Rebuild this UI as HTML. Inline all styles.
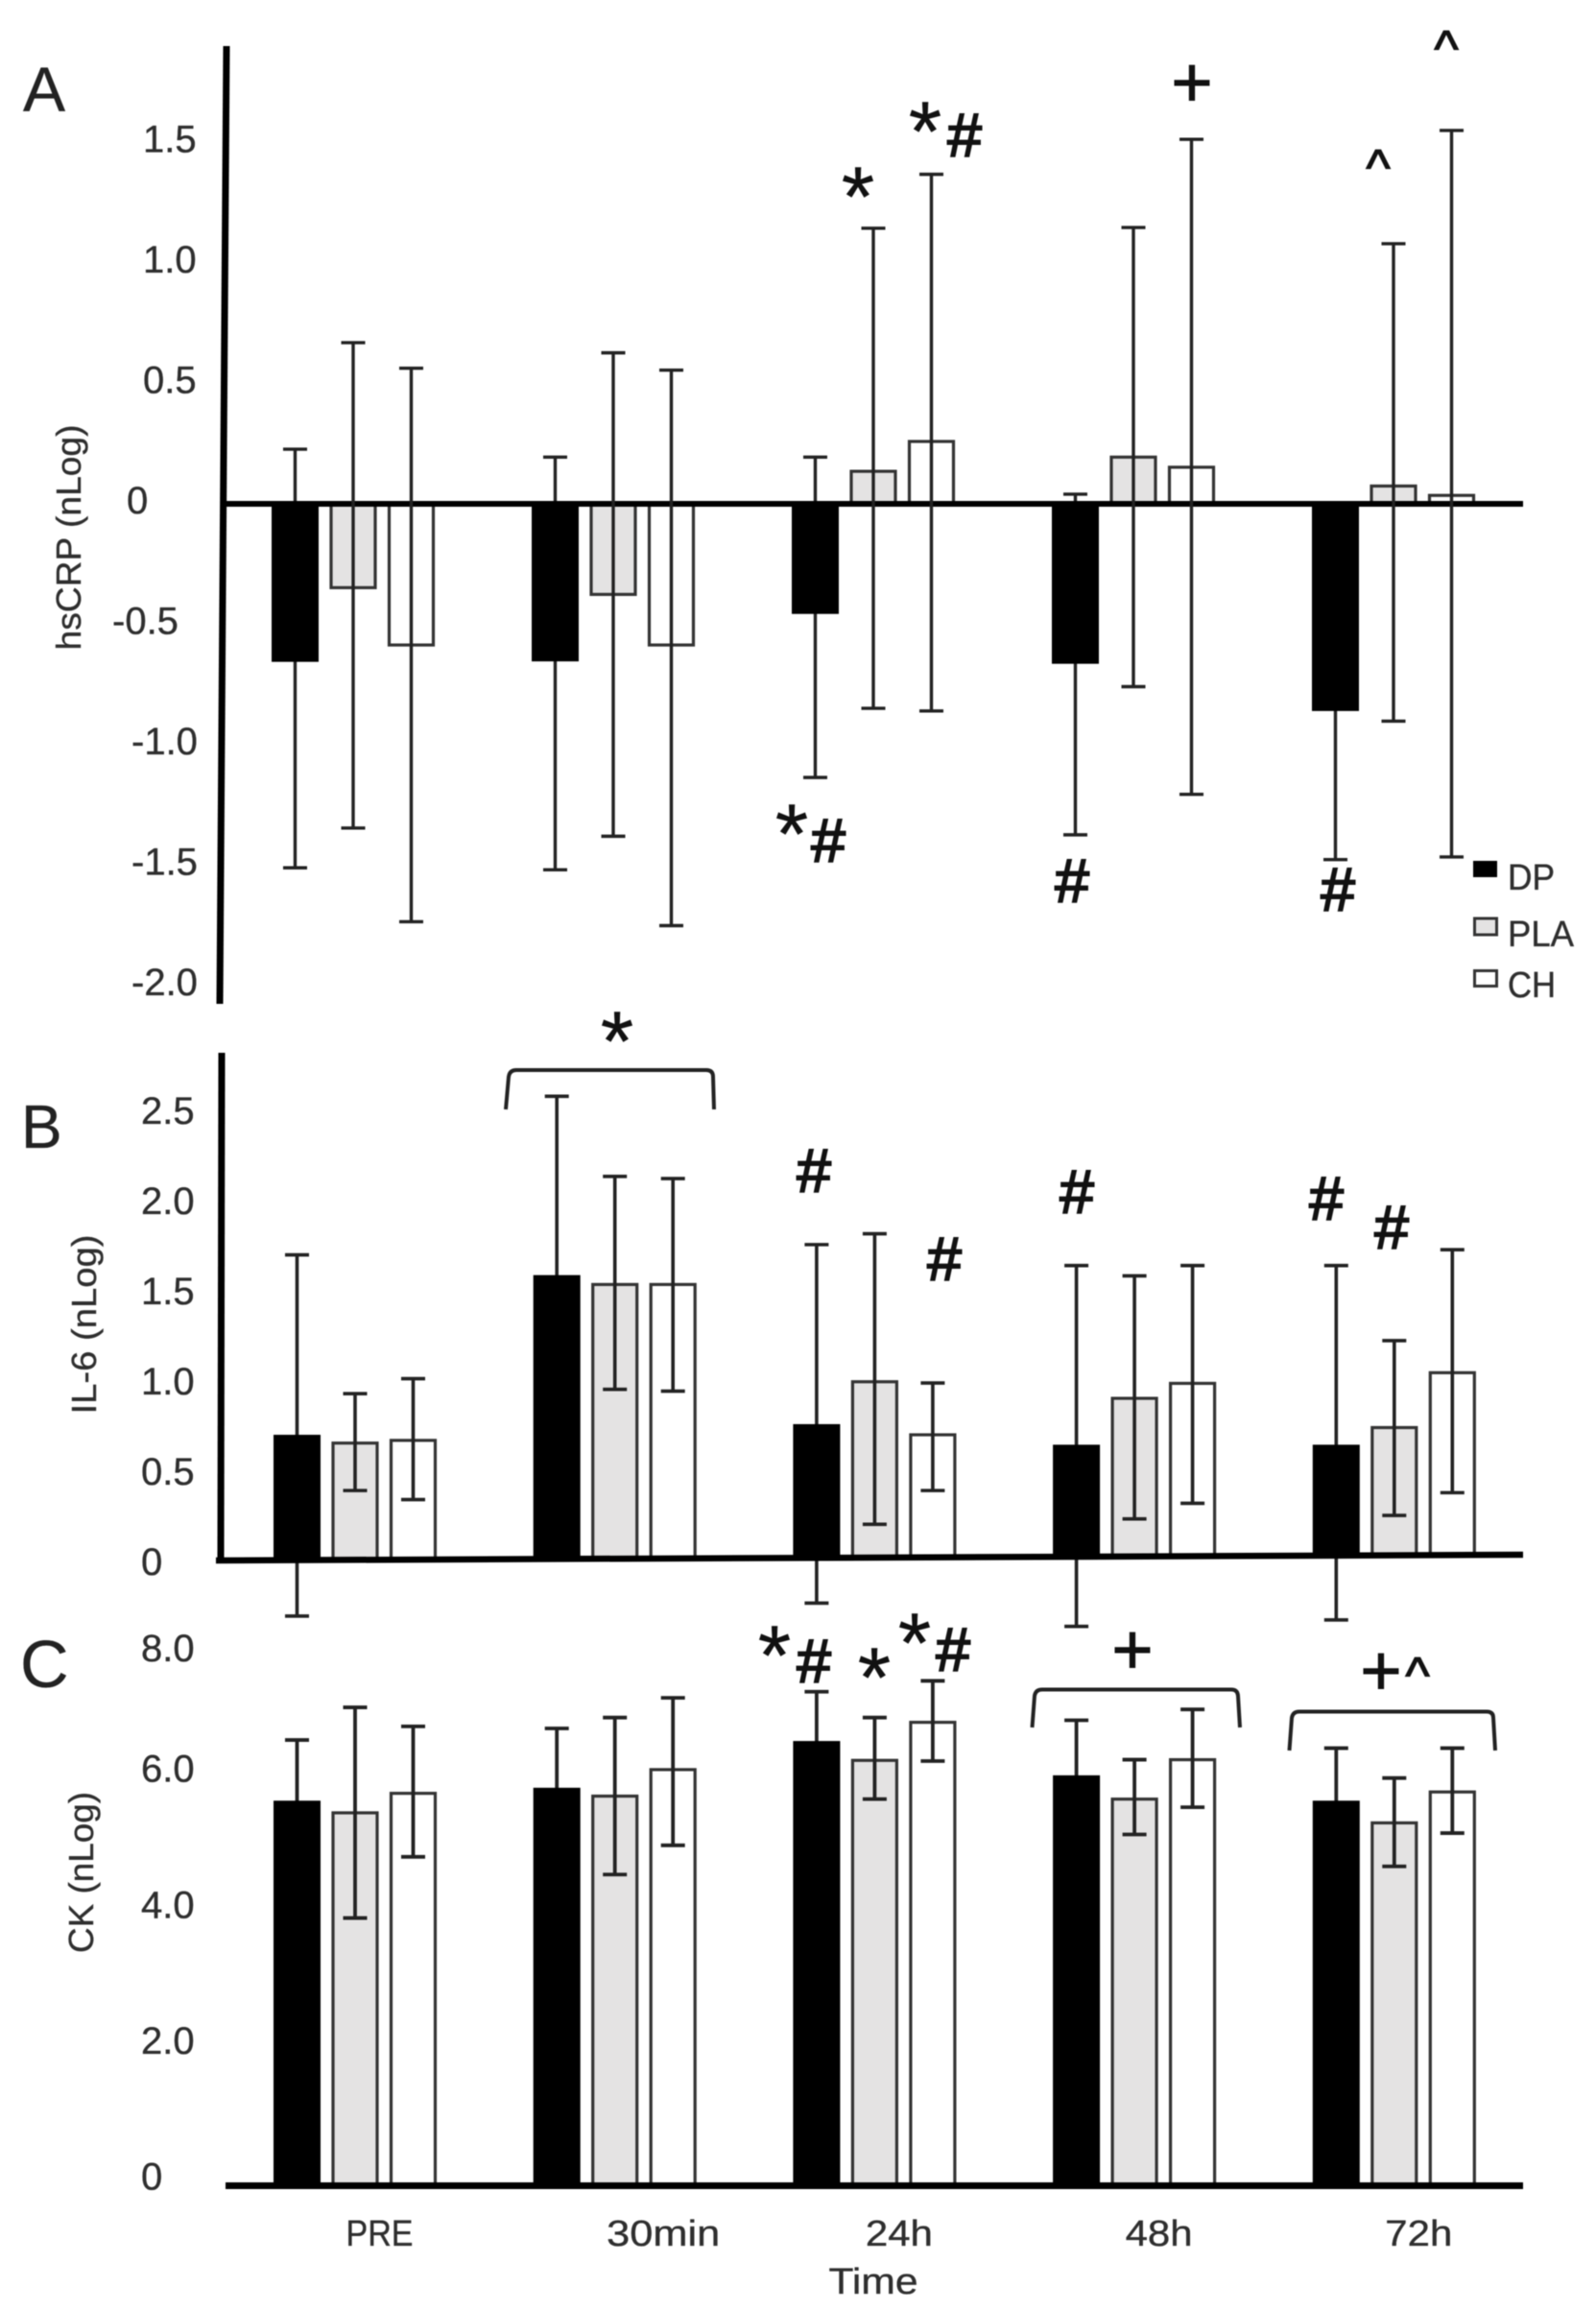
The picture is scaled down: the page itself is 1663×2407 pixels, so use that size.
<!DOCTYPE html>
<html lang="en">
<head>
<meta charset="utf-8">
<title>hsCRP, IL-6 and CK over time</title>
<style>
html,body{margin:0;padding:0;background:#fff;}
svg{display:block;filter:blur(0.5px);}
text{font-family:"Liberation Sans",sans-serif;fill:#2e2e2e;stroke:#2e2e2e;stroke-width:0.35;}
.glyph{fill:#111;stroke:#111;text-anchor:middle;}
.star{font-size:88px;stroke-width:0.5;}
.hash{font-size:64px;stroke-width:2;}
.plus{font-size:74px;stroke-width:1;}
.caret{font-size:54px;stroke-width:1.2;}
.bracket{fill:none;stroke:#222;stroke-width:4;}
</style>
</head>
<body>
<svg id="chart" xmlns="http://www.w3.org/2000/svg" width="1663" height="2407" viewBox="0 0 1663 2407">
  <rect width="1663" height="2407" fill="#fff"/>

  <g id="panels"></g>

  <text x="24" y="116" font-size="66" style="fill:#222">A</text>
  <text x="22" y="1196" font-size="64" style="fill:#222">B</text>
  <text x="21" y="1758" font-size="70" style="fill:#222">C</text>

  <text transform="translate(84,560) rotate(-90)" text-anchor="middle" font-size="36" textLength="235" lengthAdjust="spacingAndGlyphs">hsCRP (nLog)</text>
  <text transform="translate(100,1380) rotate(-90)" text-anchor="middle" font-size="36" textLength="187" lengthAdjust="spacingAndGlyphs">IL-6 (nLog)</text>
  <text transform="translate(97,1951) rotate(-90)" text-anchor="middle" font-size="36" textLength="168" lengthAdjust="spacingAndGlyphs">CK (nLog)</text>

  <text x="910" y="2390" text-anchor="middle" font-size="38" textLength="93" lengthAdjust="spacingAndGlyphs">Time</text>

  <g>
    <g>
      <rect x="1535" y="897" width="25" height="17" fill="#000"/>
      <text x="1571" y="927" font-size="38" textLength="49" lengthAdjust="spacingAndGlyphs">DP</text>
    </g>
    <g>
      <rect x="1536.5" y="957" width="23" height="17" fill="#e4e3e3" stroke="#333" stroke-width="3"/>
      <text x="1571" y="986" font-size="38" textLength="69" lengthAdjust="spacingAndGlyphs">PLA</text>
    </g>
    <g>
      <rect x="1536.5" y="1011.5" width="23" height="16" fill="#fff" stroke="#333" stroke-width="3"/>
      <text x="1571" y="1039" font-size="38" textLength="50" lengthAdjust="spacingAndGlyphs">CH</text>
    </g>
  </g>

  <g>
    <text class="glyph star" x="894" y="235">*</text>
    <text class="glyph star" x="964" y="167">*</text>
    <text class="glyph hash" x="1005" y="163">#</text>
    <text class="glyph plus" x="1242" y="111">+</text>
    <text class="glyph caret" x="1436" y="193">^</text>
    <text class="glyph caret" x="1507" y="69">^</text>
    <text class="glyph star" x="825" y="899">*</text>
    <text class="glyph hash" x="863" y="898">#</text>
    <text class="glyph hash" x="1117" y="940">#</text>
    <text class="glyph hash" x="1394" y="949">#</text>
  </g>

  <g>
    <path class="bracket" d="M527 1156 L530 1122 Q531 1115 538 1115 L736 1115 Q743 1115 743 1122 L744 1156"/>
    <text class="glyph star" x="643" y="1115">*</text>
    <text class="glyph hash" x="848" y="1242">#</text>
    <text class="glyph hash" x="984" y="1334">#</text>
    <text class="glyph hash" x="1122" y="1264">#</text>
    <text class="glyph hash" x="1382" y="1271">#</text>
    <text class="glyph hash" x="1450" y="1301">#</text>
  </g>

  <g>
    <text class="glyph star" x="807" y="1755">*</text>
    <text class="glyph hash" x="848" y="1753">#</text>
    <text class="glyph star" x="911" y="1778">*</text>
    <text class="glyph star" x="953" y="1742">*</text>
    <text class="glyph hash" x="993" y="1741">#</text>
    <path class="bracket" d="M1075.5 1800 L1078 1767 Q1079 1760.5 1086 1760.5 L1283 1760.5 Q1289.5 1760.5 1290 1767 L1292 1800"/>
    <text class="glyph plus" x="1180" y="1744">+</text>
    <path class="bracket" d="M1343.5 1824 L1346 1790 Q1347 1783.5 1354 1783.5 L1549 1783.5 Q1556 1783.5 1556 1790 L1558 1824"/>
    <text class="glyph plus" x="1439" y="1766">+</text>
    <text class="glyph caret" x="1477" y="1764">^</text>
  </g>
</svg>

<script>
// Shared categories
const categories = ['PRE', '30min', '24h', '48h', '72h'];
const seriesNames = ['DP', 'PLA', 'CH'];

// Panel A: hsCRP
const crpTicks = [1.5, 1.0, 0.5, 0, -0.5, -1.0, -1.5, -2.0];
const crpDP = [-0.656, -0.654, -0.457, -0.664, -0.86];
const crpPLA = [-0.348, -0.376, 0.135, 0.194, 0.074];
const crpCH = [-0.586, -0.586, 0.259, 0.152, 0.035];
const crpDPHi = [0.227, 0.194, 0.194, 0.04, 0];
const crpDPLo = [-1.511, -1.519, -1.136, -1.374, -1.477];
const crpPLAHi = [0.669, 0.627, 1.144, 1.147, 1.08];
const crpPLALo = [-1.346, -1.38, -0.849, -0.759, -0.902];
const crpCHHi = [0.563, 0.555, 1.368, 1.513, 1.55];
const crpCHLo = [-1.735, -1.751, -0.86, -1.206, -1.466];

// Panel B: IL-6
const il6Ticks = [2.5, 2.0, 1.5, 1.0, 0.5, 0];
const il6DP = [0.686, 1.571, 0.745, 0.631, 0.631];
const il6PLA = [0.64, 1.519, 0.98, 0.888, 0.726];
const il6CH = [0.655, 1.519, 0.686, 0.971, 1.03];
const il6DPHi = [1.683, 2.562, 1.74, 1.624, 1.624];
const il6DPLo = [-0.319, 0.6, -0.247, -0.376, -0.34];
const il6PLAHi = [0.914, 2.118, 1.8, 1.567, 1.208];
const il6PLALo = [0.377, 0.938, 0.19, 0.22, 0.239];
const il6CHHi = [0.997, 2.106, 0.973, 1.624, 1.712];
const il6CHLo = [0.327, 0.928, 0.377, 0.306, 0.365];

// Panel C: CK
const ckTicks = [8.0, 6.0, 4.0, 2.0, 0];
const ckDP = [5.667, 5.857, 6.545, 6.04, 5.667];
const ckPLA = [5.488, 5.734, 6.26, 5.69, 5.34];
const ckCH = [5.775, 6.124, 6.82, 6.27, 5.795];
const ckDPHi = [6.56, 6.73, 7.27, 6.85, 6.44];
const ckDPLo = [4.8, 5.0, 5.8, 5.2, 4.9];
const ckPLAHi = [7.04, 6.89, 6.89, 6.27, 6.0];
const ckPLALo = [3.94, 4.58, 5.69, 5.17, 4.7];
const ckCHHi = [6.76, 7.18, 7.43, 7.01, 6.44];
const ckCHLo = [4.84, 5.01, 6.25, 5.57, 5.19];

const SVGNS = 'http://www.w3.org/2000/svg';
const root = document.getElementById('panels');

function node(parent, tag, attrs) {
  const el = document.createElementNS(SVGNS, tag);
  for (const k in attrs) el.setAttribute(k, attrs[k]);
  parent.appendChild(el);
  return el;
}

function tickText(t) {
  return t === 0 ? '0' : t.toFixed(1);
}

function drawPanel(panel) {
  const g = node(root, 'g', {});
  
  

  const xBar = (i, j) => panel.x0 + panel.groupStep * i + 60.5 * j;
  const values = [panel.dp, panel.pla, panel.ch];
  const highs = [panel.dpHi, panel.plaHi, panel.chHi];
  const lows = [panel.dpLo, panel.plaLo, panel.chLo];

  function drawError(i, j) {
    const cx = xBar(i, j) + 24.5;
    const yHi = panel.y(highs[j][i]);
    const yLo = panel.y(lows[j][i]);
    const err = node(g, 'path', {
      d: 'M' + cx + ' ' + yHi + ' V' + yLo +
         ' M' + (cx - 12.5) + ' ' + yHi + ' H' + (cx + 12.5) +
         ' M' + (cx - 12.5) + ' ' + yLo + ' H' + (cx + 12.5),
      fill: 'none', stroke: '#222', 'stroke-width': panel.errW
    });
    
    
  }

  function drawBar(i, j) {
    const left = xBar(i, j);
    const base = panel.base(left);
    const top = panel.y(values[j][i]);
    const yMin = Math.min(base, top);
    const h = Math.abs(base - top);
    const isDP = j === 0;
    const inset = isDP ? 0 : 1.5;
    const bar = node(g, 'rect', {
      x: left + inset,
      y: yMin,
      width: 49 - inset * 2,
      height: h,
      fill: ['#000', '#e4e3e3', '#fff'][j],
      stroke: isDP ? 'none' : '#333',
      'stroke-width': 3.2
    });
    
    
  }

  categories.forEach((c, i) => {
    drawError(i, 0);
    drawBar(i, 0);
    drawBar(i, 1);
    drawBar(i, 2);
  });

  // axes
  if (panel.yAxis) {
    const ya = node(g, 'line', Object.assign({ stroke: '#000', 'stroke-width': 7 }, panel.yAxis));
    
    
  }
  const xa = node(g, 'line', {
    x1: panel.xAxisStart, y1: panel.base(panel.xAxisStart),
    x2: 1587, y2: panel.base(1587),
    stroke: '#000', 'stroke-width': panel.xAxisW
  });
  
  

  // error bars for the outlined series sit on top of bars and baseline
  categories.forEach((c, i) => {
    drawError(i, 1);
    drawError(i, 2);
  });

  // tick labels
  panel.ticks.forEach(t => {
    const lab = node(g, 'text', {
      x: panel.tickX(t),
      y: panel.y(t) + panel.tickDy(t),
      'font-size': 40
    });
    lab.textContent = tickText(t);
    
    
  });
}

drawPanel({
  id: 'a',
  x0: 283, groupStep: 271, errW: 3.4,
  y: v => 525 - 251 * v,
  base: () => 525,
  xAxisStart: 232, xAxisW: 6,
  yAxis: { x1: 236, y1: 48, x2: 229, y2: 1046 },
  ticks: crpTicks,
  tickX: t => (t === 0 ? 132 : t === -0.5 ? 117 : t < 0 ? 137 : 149),
  tickDy: t => 10,
  dp: crpDP, pla: crpPLA, ch: crpCH,
  dpHi: crpDPHi, dpLo: crpDPLo,
  plaHi: crpPLAHi, plaLo: crpPLALo,
  chHi: crpCHHi, chLo: crpCHLo
});

drawPanel({
  id: 'b',
  x0: 285, groupStep: 270.7, errW: 3.6,
  y: v => 1624 - 188 * v,
  base: x => 1626 - (x - 225) * 6 / 1362,
  xAxisStart: 225, xAxisW: 6.5,
  yAxis: { x1: 231, y1: 1097, x2: 230, y2: 1628 },
  ticks: il6Ticks,
  tickX: t => 147,
  tickDy: t => 17,
  dp: il6DP, pla: il6PLA, ch: il6CH,
  dpHi: il6DPHi, dpLo: il6DPLo,
  plaHi: il6PLAHi, plaLo: il6PLALo,
  chHi: il6CHHi, chLo: il6CHLo
});

drawPanel({
  id: 'c',
  x0: 285, groupStep: 270.7, errW: 3.8,
  y: v => 2277.5 - 70.8 * v,
  base: () => 2277.5,
  xAxisStart: 235, xAxisW: 7,
  yAxis: null,
  ticks: ckTicks,
  tickX: t => 147,
  tickDy: t => (t === 8 ? 20 : 4),
  dp: ckDP, pla: ckPLA, ch: ckCH,
  dpHi: ckDPHi, dpLo: ckDPLo,
  plaHi: ckPLAHi, plaLo: ckPLALo,
  chHi: ckCHHi, chLo: ckCHLo
});

// x-axis category labels
const xLabels = node(root, 'g', {});


categories.forEach((c, i) => {
  const isLong = c.length > 3;
  const cx = 369.5 + 270.7 * i + 26 + (isLong ? 25 : 0);
  const lab = node(xLabels, 'text', {
    x: cx, y: 2340, 'text-anchor': 'middle', 'font-size': 38,
    textLength: isLong ? 118 : 70, lengthAdjust: 'spacingAndGlyphs'
  });
  lab.textContent = c;
  
  
});
</script>
</body>
</html>
